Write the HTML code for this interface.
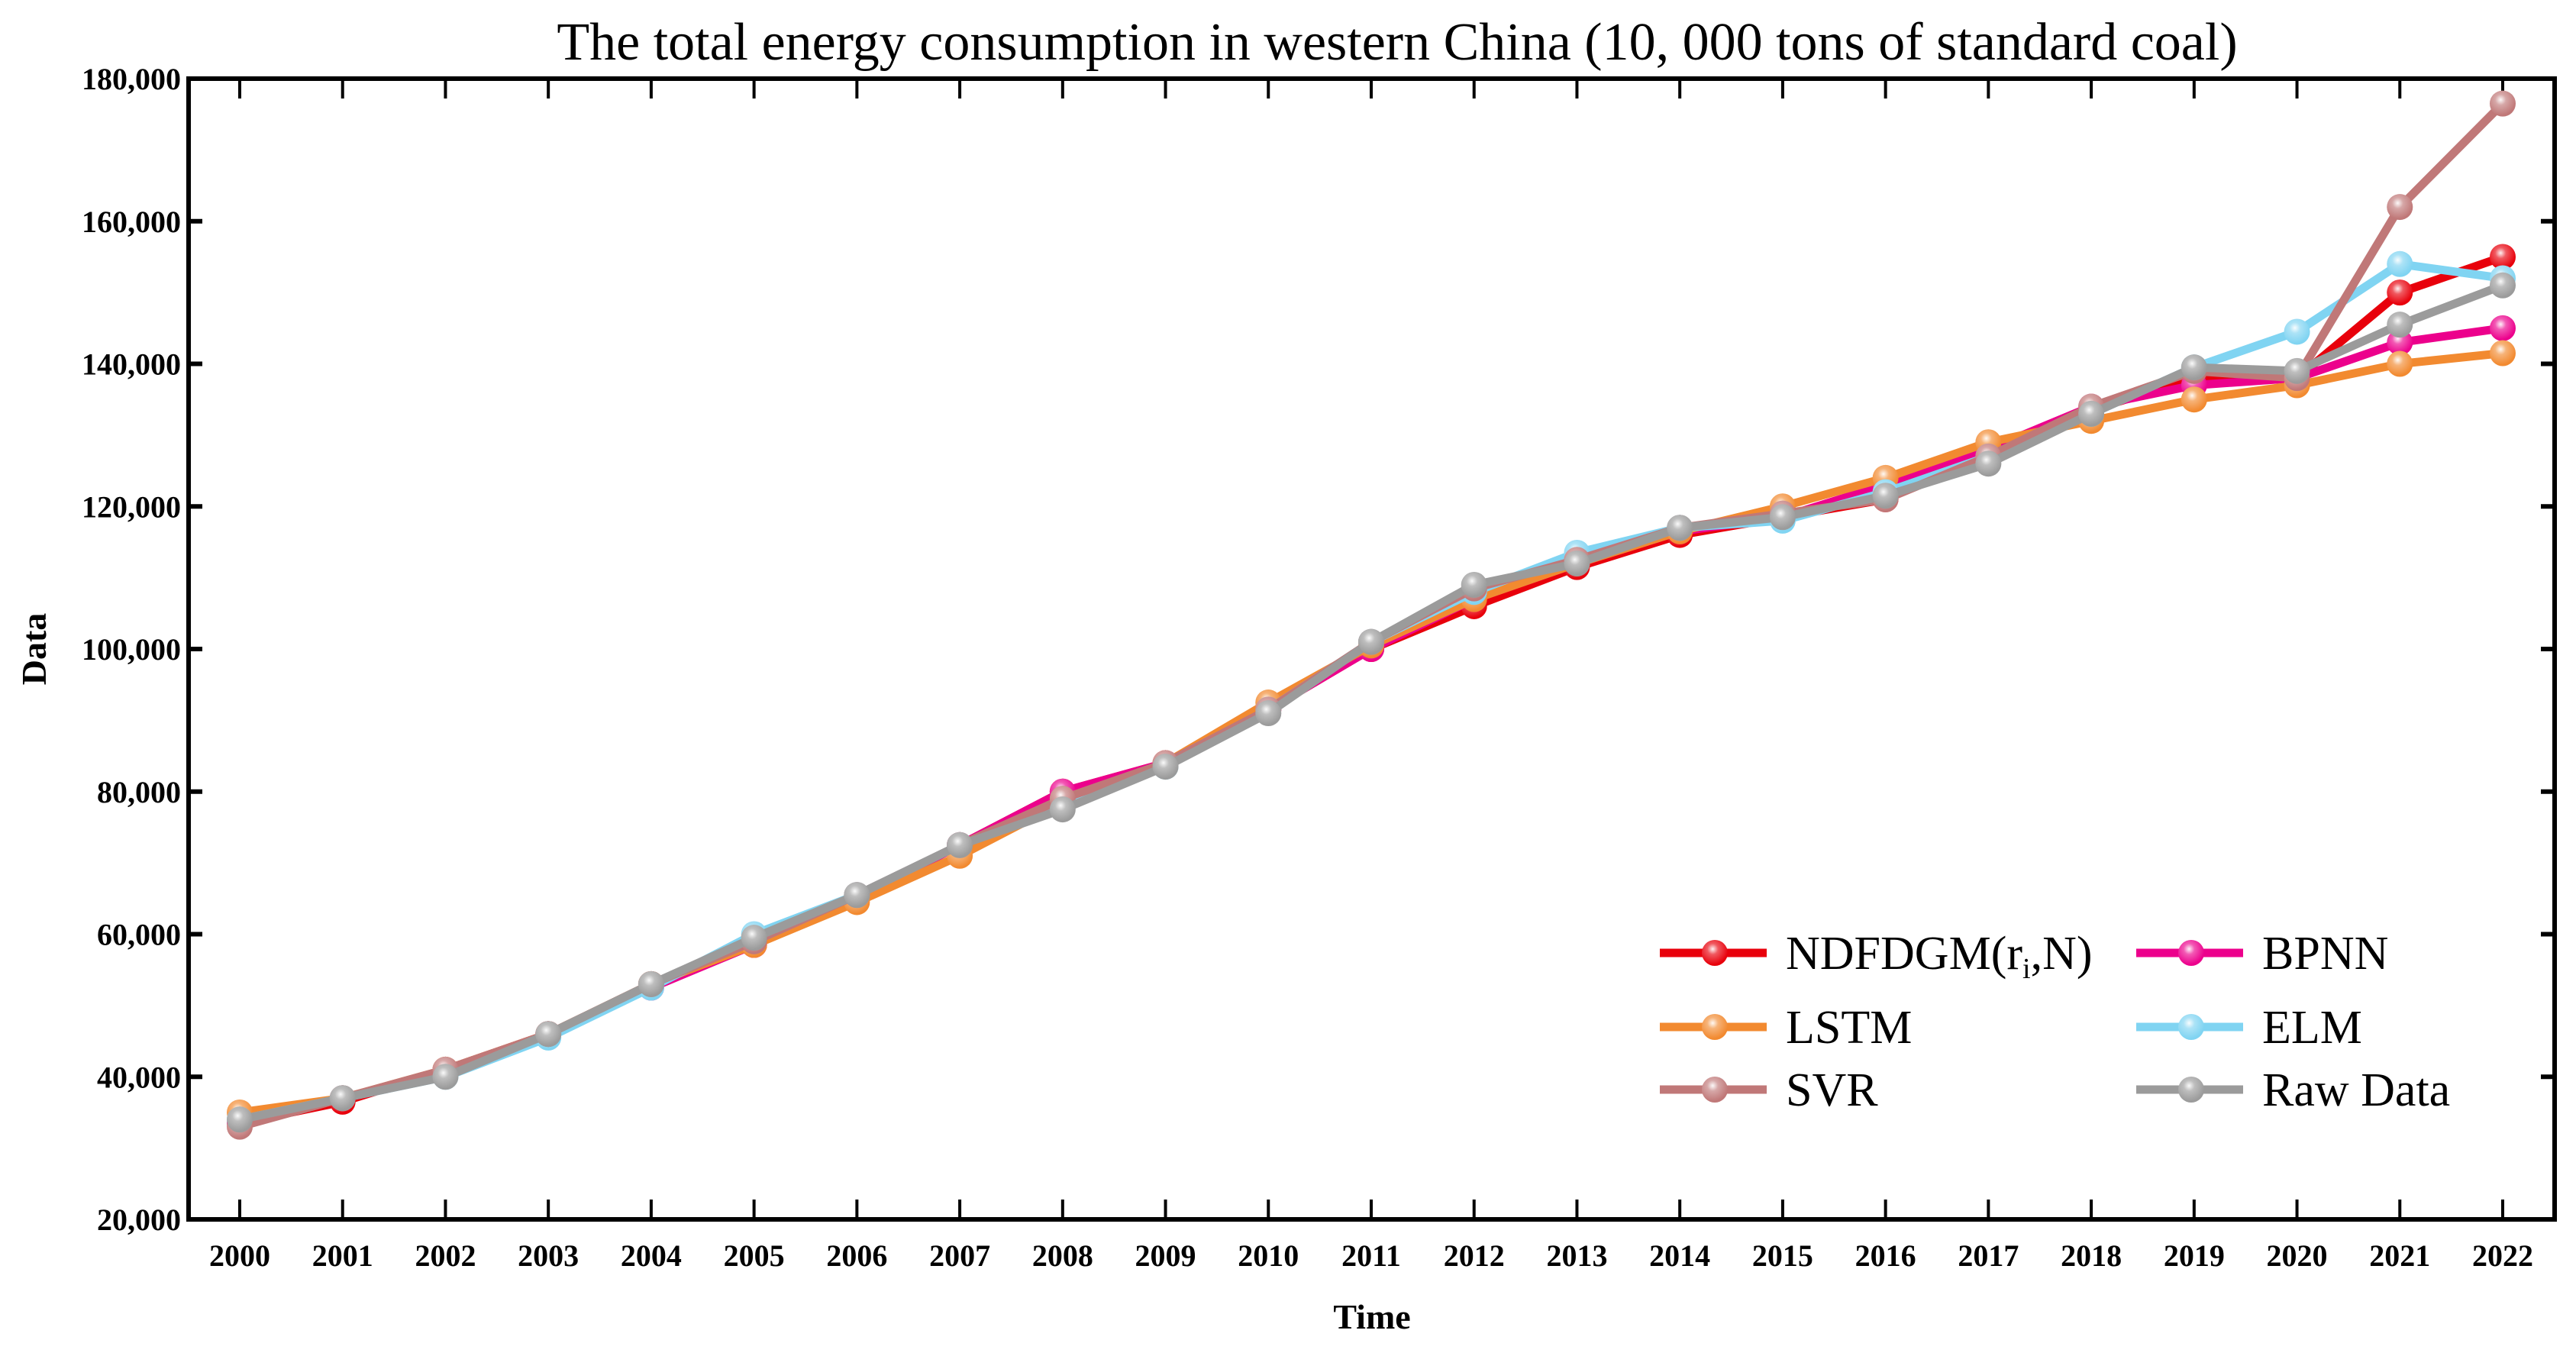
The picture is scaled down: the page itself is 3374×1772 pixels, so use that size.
<!DOCTYPE html>
<html><head><meta charset="utf-8"><style>
html,body{margin:0;padding:0;background:#fff;}
svg{display:block;font-family:"Liberation Serif",serif;}
</style></head><body>
<svg id="chart" width="3374" height="1772" viewBox="0 0 3374 1772">
<defs>
<radialGradient id="hl" cx="0.42" cy="0.35" r="0.6"><stop offset="0" stop-color="#fff" stop-opacity="0.95"/><stop offset="0.35" stop-color="#fff" stop-opacity="0.35"/><stop offset="1" stop-color="#fff" stop-opacity="0"/></radialGradient>
</defs>
<text x="1830" y="78" font-size="70" text-anchor="middle">The total energy consumption in western China (10, 000 tons of standard coal)</text>
<g id="plot"></g>
<text x="1797" y="1740" font-size="46" font-weight="bold" text-anchor="middle">Time</text>
<text transform="translate(60,850) rotate(-90)" font-size="46" font-weight="bold" text-anchor="middle">Data</text>
<g id="legend"></g>
</svg>
<script>
const years=[2000,2001,2002,2003,2004,2005,2006,2007,2008,2009,2010,2011,2012,2013,2014,2015,2016,2017,2018,2019,2020,2021,2022];
const yTicks=[20000,40000,60000,80000,100000,120000,140000,160000,180000];
const seriesNames=["NDFDGM","BPNN","LSTM","ELM","SVR","Raw Data"];
const ndfdgm=[33500,36500,41000,46000,53000,58500,65000,72500,80000,84000,91500,100000,106000,111500,116000,118500,121000,128000,133500,138000,138000,150000,155000];
const bpnn=[33500,37000,40500,46000,52500,58500,65000,72500,80000,84000,91500,100000,107000,112000,116500,118500,123000,128000,134000,137000,138000,143000,145000];
const lstm=[35000,37000,41000,46000,53000,58500,64500,71000,78500,84000,92500,100500,107000,112000,116500,120000,124000,129000,132000,135000,137000,140000,141500];
const elm=[34000,37000,40000,45500,52500,60000,65500,72500,78000,83500,91500,101000,108000,113500,117000,118000,122000,127000,133000,139500,144500,154000,152000];
const svr=[33000,37000,41000,46000,53000,59000,65500,72500,79000,84000,91500,101000,108500,112500,117000,119000,121000,127000,134000,139000,138000,162000,176500];
const raw=[34000,37000,40000,46000,53000,59500,65500,72500,77500,83500,91000,101000,109000,112000,117000,118500,121500,126000,133000,139500,139000,145500,151000];

const NS="http://www.w3.org/2000/svg";
const L=247,R=3346,T=103,B=1597;
const X0=314,X1=3278;
function xs(i){return X0+(X1-X0)*i/(years.length-1);}
function ys(v){return B-(v-20000)/(180000-20000)*(B-T);}
function mk(tag,attrs,parent){const e=document.createElementNS(NS,tag);for(const k in attrs)e.setAttribute(k,attrs[k]);parent.appendChild(e);return e;}
const plot=document.getElementById('plot');
const frame=mk('rect',{x:L,y:T,width:R-L,height:B-T,fill:'none',stroke:'#000','stroke-width':6},plot);


yTicks.forEach(v=>{
  const y=ys(v);
  const t=mk('line',{x1:L,x2:L+18,y1:y,y2:y,stroke:'#000','stroke-width':6},plot);
  
  
  const t2=mk('line',{x1:R,x2:R-18,y1:y,y2:y,stroke:'#000','stroke-width':6},plot);
  
  
  const lb=mk('text',{x:L-10,y:y+14,'font-size':40,'font-weight':'bold','text-anchor':'end'},plot);
  lb.textContent=v.toLocaleString('en-US');
  
  
});
years.forEach((yr,i)=>{
  const x=xs(i);
  const a=mk('line',{x1:x,x2:x,y1:B,y2:B-26,stroke:'#000','stroke-width':4},plot);
  
  
  const b=mk('line',{x1:x,x2:x,y1:T,y2:T+26,stroke:'#000','stroke-width':4},plot);
  
  
  const lb=mk('text',{x:x,y:1658,'font-size':40,'font-weight':'bold','text-anchor':'middle'},plot);
  lb.textContent=String(yr);
  
  
});
const seriesData=[ndfdgm,bpnn,lstm,elm,svr,raw];
const colors=["#e8000b","#ec008c","#f28a30","#80d4f2","#c07878","#9b9b9b"];
const slugs=["ndfdgm","bpnn","lstm","elm","svr","raw-data"];
seriesData.forEach((d,s)=>{
  const g=mk('g',{},plot);
  
  
  const pts=d.map((v,i)=>xs(i)+','+ys(v)).join(' ');
  const pl=mk('polyline',{points:pts,fill:'none',stroke:colors[s],'stroke-width':11,'stroke-linejoin':'round'},g);
  
  
  d.forEach((v,i)=>{
    const c=mk('circle',{cx:xs(i),cy:ys(v),r:17,fill:colors[s]},g);
    
    
    const h=mk('circle',{cx:xs(i),cy:ys(v),r:17,fill:'url(#hl)'},g);
    
    
  });
});
const leg=document.getElementById('legend');
const legPos=[[2174,1248],[2798,1248],[2174,1345],[2798,1345],[2174,1427],[2798,1427]];
seriesNames.forEach((n,s)=>{
  const [x,y]=legPos[s];
  const g=mk('g',{},leg);
  
  
  mk('line',{x1:x,x2:x+140,y1:y,y2:y,stroke:colors[s],'stroke-width':11},g);
  mk('circle',{cx:x+72,cy:y,r:17,fill:colors[s]},g);
  mk('circle',{cx:x+72,cy:y,r:17,fill:'url(#hl)'},g);
  const t=mk('text',{x:x+165,y:y+21,'font-size':62},g);
  if(s===0){
    t.appendChild(document.createTextNode('NDFDGM(r'));
    const sub=mk('tspan',{'font-size':38,dy:12},t);sub.textContent='i';
    const rest=mk('tspan',{dy:-12},t);rest.textContent=',N)';
  } else t.textContent=n;
});
</script>
</body></html>
